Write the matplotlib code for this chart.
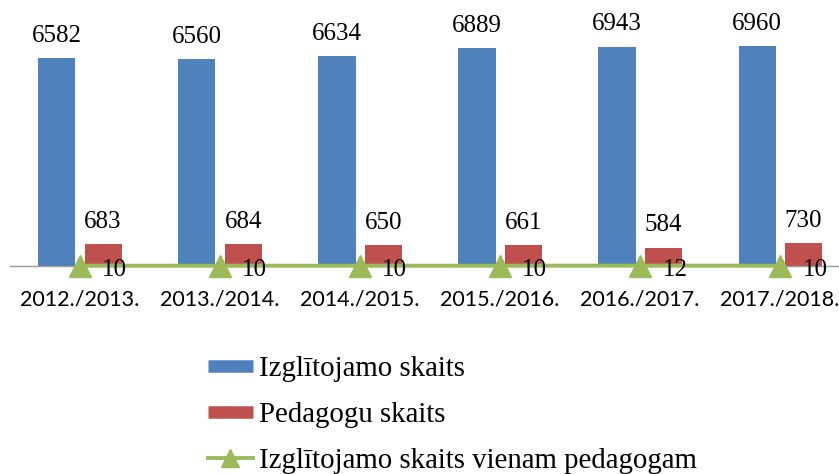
import matplotlib.pyplot as plt
import numpy as np
from matplotlib.lines import Line2D

years = ['2012./2013.', '2013./2014.', '2014./2015.', '2015./2016.', '2016./2017.', '2017./2018.']
students = [6582, 6560, 6634, 6889, 6943, 6960]
teachers = [683, 684, 650, 661, 584, 730]
per_teacher = [10, 10, 10, 10, 12, 10]

blue = '#4F81BD'
red = '#C0504D'
green = '#9BBB59'
serif = 'Liberation Serif'

fig = plt.figure(figsize=(8.39, 4.74), dpi=100)
ax = fig.add_axes([10 / 839, 1 - 266 / 474, 829 / 839, 266 / 474])

x = np.arange(len(years))
w = 0.265
off = 0.165
ax.bar(x - off, students, w, color=blue, zorder=2)
ax.bar(x + off, teachers, w, color=red, zorder=2)
ax.plot(x, per_teacher, color=green, lw=2.8, marker='^', markersize=16,
        zorder=5, clip_on=False)

for i in range(len(years)):
    ax.annotate(str(students[i]), (x[i] - off, students[i]), xytext=(0, 8),
                textcoords='offset points', ha='center', va='bottom',
                fontsize=18, family=serif)
    ax.annotate(str(teachers[i]), (x[i] + off, teachers[i]), xytext=(0, 8),
                textcoords='offset points', ha='center', va='bottom',
                fontsize=18, family=serif)
    ax.annotate(str(per_teacher[i]), (x[i], per_teacher[i]), xytext=(16, -3),
                textcoords='offset points', ha='left', va='center',
                fontsize=18, family=serif, zorder=6)

ax.set_xlim(-0.5, 5.42)
ax.set_ylim(0, 8417)
ax.set_yticks([])
ax.set_xticks(x)
ax.set_xticklabels(years, family='Lato', fontsize=15.5)
ax.tick_params(axis='x', length=0, pad=17)
for s in ['top', 'left', 'right']:
    ax.spines[s].set_visible(False)
ax.spines['bottom'].set_color('#9a9a9a')
ax.spines['bottom'].set_linewidth(1)

handles = [Line2D([], [], color=blue, lw=9, solid_capstyle='butt'),
           Line2D([], [], color=red, lw=9, solid_capstyle='butt'),
           Line2D([], [], color=green, lw=2.8, marker='^', markersize=13)]
labels = ['Izglītojamo skaits', 'Pedagogu skaits', 'Izglītojamo skaits vienam pedagogam']
fig.legend(handles, labels, loc='upper left', bbox_to_anchor=(208 / 839, 1 - 356 / 474),
           frameon=False, prop={'family': serif, 'size': 20.8},
           handlelength=1.55, handletextpad=0.2, labelspacing=0.68, borderpad=0,
           borderaxespad=0)

plt.savefig('out.png', dpi=100)
